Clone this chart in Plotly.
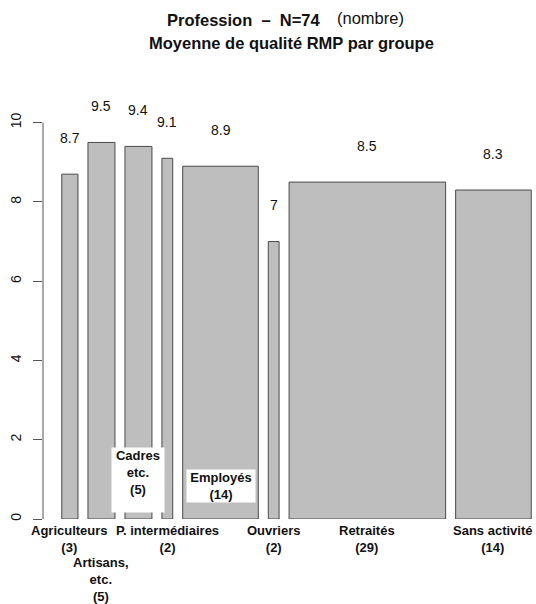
import plotly.graph_objects as go

# ---- data ----
categories = ["Agriculteurs", "Artisans,<br>etc.", "Cadres<br>etc.", "P. intermédiaires",
              "Employés", "Ouvriers", "Retraités", "Sans activité"]
counts = [3, 5, 5, 2, 14, 2, 29, 14]
means = [8.7, 9.5, 9.4, 9.1, 8.9, 7, 8.5, 8.3]
y_ticks = [0, 2, 4, 6, 8, 10]
title_main = "Profession\u00a0\u00a0–\u00a0\u00a0N=74"
title_note = "(nombre)"
title_sub = "Moyenne de qualité RMP par groupe"

# ---- layout (R barplot-like variable widths) ----
FONT = "Liberation Sans, Arial, sans-serif"
W, H = 536, 604
ML, MR, MT, MB = 43, 0, 83, 85
space = 0.2 * sum(counts) / len(counts)
lefts, acc = [], 0.0
for i, c in enumerate(counts):
    lefts.append(space * (i + 1) + acc)
    acc += c
centers = [l + c / 2 for l, c in zip(lefts, counts)]
lo, hi = lefts[0], lefts[-1] + counts[-1]
pad = 0.04 * (hi - lo)
xmin = lo - pad
r_plot_w = 507.0  # R plot region width in px (extends past window)
xmax = xmin + (hi + pad - xmin) * (W - ML - MR) / r_plot_w

fig = go.Figure()
fig.add_trace(go.Bar(
    x=centers, y=means, width=counts,
    marker=dict(color="#bebebe", line=dict(color="#4a4a4a", width=1)),
    hoverinfo="skip", showlegend=False,
))

ann = []
# value labels above bars
for cx, v in zip(centers, means):
    ann.append(dict(x=cx, y=v, xref="x", yref="y", text=f"{v:g}", showarrow=False,
                    yanchor="middle", yshift=36.5, font=dict(size=14, color="#111", family=FONT)))

# category labels
lab_font = dict(size=13, color="#111", family=FONT)
for i, (cx, name, n) in enumerate(zip(centers, categories, counts)):
    txt = f"<b>{name}<br>({n})</b>"
    if i == 1:      # lowered label
        ann.append(dict(x=cx, y=0, xref="x", yref="y", text=txt, showarrow=False,
                        yanchor="top", yshift=-34, font=lab_font))
    elif i == 2:    # boxed, inside plot
        ann.append(dict(x=cx, y=0, xref="x", yref="y", text=txt, showarrow=False,
                        yanchor="bottom", yshift=6, width=52, height=64, valign="top",
                        bgcolor="white", borderpad=0, font=lab_font))
    elif i == 4:    # boxed, inside bar
        ann.append(dict(x=cx, y=0, xref="x", yref="y", text=txt, showarrow=False,
                        yanchor="bottom", yshift=16, width=68, height=32, valign="middle",
                        bgcolor="white", borderpad=0, font=lab_font))
    else:
        ann.append(dict(x=cx, y=0, xref="x", yref="y", text=txt, showarrow=False,
                        yanchor="top", yshift=-2, font=lab_font))

# titles
pw = W - ML - MR
ann.append(dict(x=(323 - ML) / pw, y=1, xref="paper", yref="paper", text=f"<b>{title_main}</b>",
                showarrow=False, xanchor="right", yanchor="middle", yshift=63,
                font=dict(size=16.5, color="#111", family=FONT)))
ann.append(dict(x=(335 - ML) / pw, y=1, xref="paper", yref="paper", text=title_note,
                showarrow=False, xanchor="left", yanchor="middle", yshift=65,
                font=dict(size=16.5, color="#111", family=FONT)))
ann.append(dict(x=(291.5 - ML) / pw, y=1, xref="paper", yref="paper", text=f"<b>{title_sub}</b>",
                showarrow=False, xanchor="center", yanchor="middle", yshift=40,
                font=dict(size=16.5, color="#111", family=FONT)))

fig.update_layout(
    width=W, height=H,
    margin=dict(l=ML, r=MR, t=MT, b=MB, autoexpand=False),
    paper_bgcolor="white", plot_bgcolor="white",
    font=dict(family=FONT, color="#111"),
    xaxis=dict(range=[xmin, xmax], visible=False, fixedrange=True),
    yaxis=dict(range=[0, 11], tickvals=y_ticks, ticktext=[str(t) for t in y_ticks],
               showgrid=False, zeroline=False, showline=False, fixedrange=True,
               ticks="outside", ticklen=9, tickwidth=1, tickcolor="#555555",
               tickangle=-90, tickfont=dict(size=14, color="#111", family=FONT),
               ticklabelstandoff=6),
    annotations=ann,
    shapes=[dict(type="line", xref="paper", yref="y", x0=0, x1=0, y0=y_ticks[0], y1=y_ticks[-1],
                 line=dict(color="#555555", width=1))],
)
fig.write_html("out.html", config={"displayModeBar": False},
               post_script="document.body.style.margin='0';document.body.style.overflow='hidden';")
